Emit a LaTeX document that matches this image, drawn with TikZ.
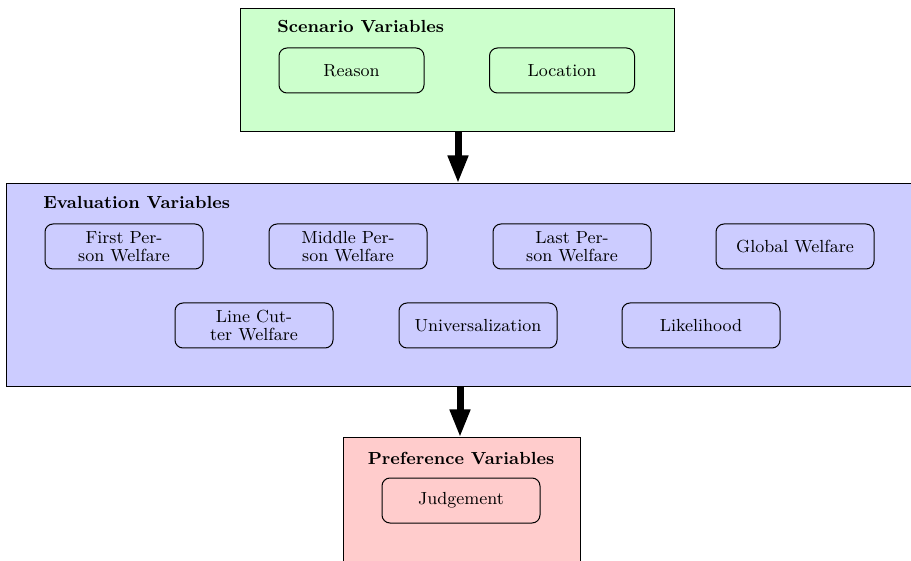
\documentclass[tikz,border=0pt]{standalone}
\usetikzlibrary{arrows.meta}
\definecolor{scengreen}{HTML}{CCFFCC}
\definecolor{evalblue}{HTML}{CCCCFF}
\definecolor{prefpink}{HTML}{FFCCCC}
\begin{document}
\begin{tikzpicture}[x=0.5pt,y=-0.5pt,
  groupbox/.style={draw, line width=0.5pt, inner sep=0pt},
  varbox/.style={draw, line width=0.5pt, rounded corners=4pt, minimum width=79pt, minimum height=22.5pt, align=center, inner sep=0pt, font=\fontsize{8.75}{9}\selectfont},
  grouptitle/.style={inner sep=0pt, font=\fontsize{8.75}{9}\selectfont\bfseries},
  flow/.style={line width=3.5pt, -{Triangle[length=14pt,width=9.5pt]}}
]
\useasboundingbox (0,0) rectangle (911,561);
% group boxes
\node[groupbox, fill=scengreen, minimum width=217pt, minimum height=61.5pt] (scen) at (457,70.5) {};
\node[groupbox, fill=evalblue, minimum width=454pt, minimum height=101.5pt] (eval) at (460,285.5) {};
\node[groupbox, fill=prefpink, minimum width=118.5pt, minimum height=61.5pt] (pref) at (461.5,499.5) {};
% titles
\node[grouptitle, anchor=west] (scent) at (277,27) {Scenario Variables};
\node[grouptitle, anchor=west] (evalt) at (43,203) {Evaluation Variables};
\node[grouptitle] (preft) at (461,458) {Preference Variables};
% scenario variables
\node[varbox, minimum width=72.5pt] (reason) at (351.5,70.5) {Reason};
\node[varbox, minimum width=72.5pt] (location) at (562,70.5) {Location};
% evaluation variables
\node[varbox] (first) at (124,246.5) {First Per-\\son Welfare};
\node[varbox] (middle) at (348,246.5) {Middle Per-\\son Welfare};
\node[varbox] (last) at (572,246.5) {Last Per-\\son Welfare};
\node[varbox] (global) at (795,246.5) {Global Welfare};
\node[varbox] (cutter) at (254,325.5) {Line Cut-\\ter Welfare};
\node[varbox] (univ) at (478,325.5) {Universalization};
\node[varbox] (likely) at (701,325.5) {Likelihood};
% preference variables
\node[varbox] (judge) at (461,500.5) {Judgement};
% flows
\draw[flow] (scen.south -| 458,0) -- (eval.north -| 458,0);
\draw[flow] (eval.south -| 460,0) -- (pref.north -| 460,0);
\end{tikzpicture}
\end{document}
